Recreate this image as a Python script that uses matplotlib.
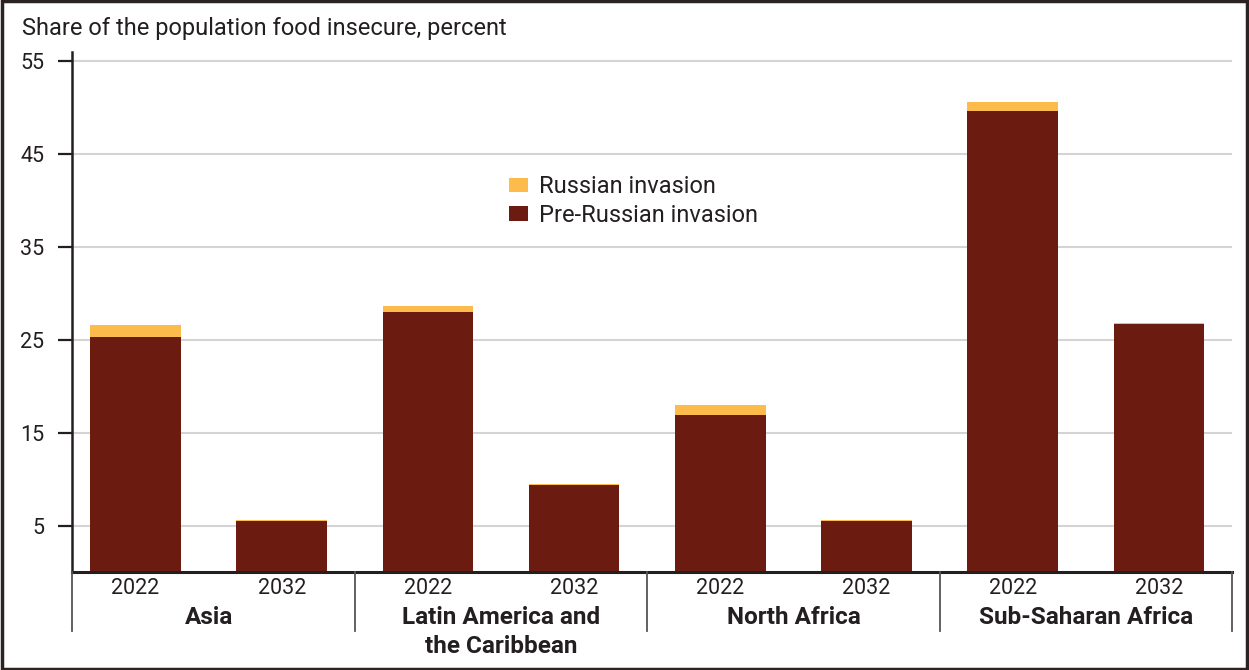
import numpy as np
import matplotlib.pyplot as plt
from matplotlib.patches import Rectangle

plt.rcParams['font.family'] = ['Roboto', 'DejaVu Sans']

regions = ['Asia', 'Latin America and\nthe Caribbean', 'North Africa', 'Sub-Saharan Africa']
years = ['2022', '2032']
pre_invasion = [25.35, 5.5, 28.05, 9.4, 16.9, 5.5, 49.7, 26.75]
russian_invasion = [1.2, 0.1, 0.65, 0.1, 1.1, 0.1, 0.9, 0.1]

brown = '#6B1B10'
orange = '#FDBB4B'
dark = '#231F20'

fig = plt.figure(figsize=(12.49, 6.70), dpi=100)
ax = fig.add_axes([72 / 1249, 1 - 572 / 670, 1160 / 1249, 520 / 670])

x = np.arange(len(pre_invasion))
ax.bar(x, pre_invasion, width=0.62, color=brown, label='Pre-Russian invasion', zorder=2)
ax.bar(x, russian_invasion, width=0.62, bottom=pre_invasion, color=orange,
       label='Russian invasion', zorder=2)

ax.set_xlim(-0.434, 7.5)
ax.set_ylim(0, 56)
ax.set_yticks([5, 15, 25, 35, 45, 55])
ax.yaxis.grid(True, color='#D4D4D4', linewidth=1.5, zorder=0)
ax.set_axisbelow(True)
ax.tick_params(axis='y', direction='out', length=10, width=1.6, color=dark,
               labelsize=15.5, pad=10, labelcolor=dark)
ax.tick_params(axis='x', length=0, labelbottom=False)

for s in ['top', 'right']:
    ax.spines[s].set_visible(False)
ax.spines['left'].set_color(dark)
ax.spines['left'].set_linewidth(1.8)
ax.spines['bottom'].set_color(dark)
ax.spines['bottom'].set_linewidth(2.2)

# year labels and group labels below the axis
for i in x:
    ax.text(i, -1.75, years[i % 2], ha='center', va='center', fontsize=15.5,
            color=dark, clip_on=False)
for g, name in enumerate(regions):
    for k, line in enumerate(name.split('\n')):
        ax.text(2 * g + 0.5, -4.85 - 3.13 * k, line, ha='center', va='center',
                fontsize=17.5, fontweight='bold', color=dark, clip_on=False)

# group separators
for sep in [-0.434, 1.5, 3.5, 5.5, 7.5]:
    ax.plot([sep, sep], [0, -6.3], color='#555555', linewidth=1.3,
            clip_on=False, zorder=3)

fig.text(22 / 1249, 1 - 28 / 670, 'Share of the population food insecure, percent',
         fontsize=17, color=dark, va='center', ha='left')

handles, labels = ax.get_legend_handles_labels()
ax.legend(handles[::-1], labels[::-1], loc='upper left',
          bbox_to_anchor=(509 / 1249, 1 - 175 / 670), bbox_transform=fig.transFigure,
          frameon=False, fontsize=17, handlelength=0.8, handleheight=0.55,
          handletextpad=0.45, labelspacing=0.25, borderpad=0, borderaxespad=0,
          labelcolor=dark)

fig.patches.append(Rectangle((0.002, 0.002), 0.996, 0.996, transform=fig.transFigure,
                             fill=False, edgecolor='#2B2222', linewidth=2.5))

fig.savefig('out.png', dpi=100)
